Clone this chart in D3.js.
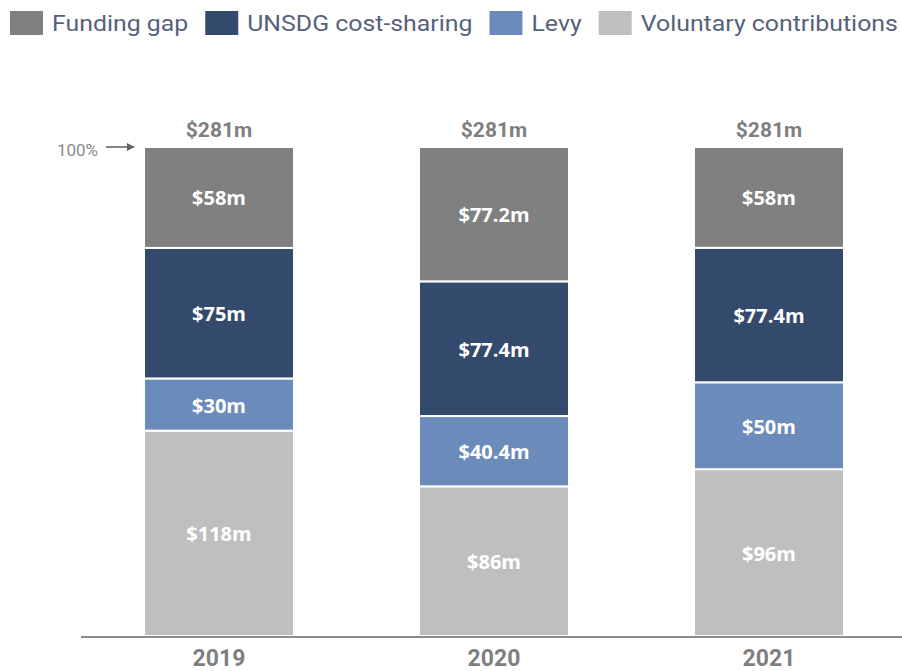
<!DOCTYPE html>
<html>
<head>
<meta charset="utf-8">
<script src="https://cdn.jsdelivr.net/npm/d3@7"></script>
<style>
  html, body { margin: 0; padding: 0; background: #fff; }
  svg { display: block; font-family: Roboto, "Noto Sans", sans-serif; }
</style>
</head>
<body>
<div id="chart"></div>
<script>
"use strict";

const years = ["2019", "2020", "2021"];
const seriesNames = ["Voluntary contributions", "Levy", "UNSDG cost-sharing", "Funding gap"];
const voluntary = [118, 86, 96];
const levy = [30, 40.4, 50];
const unsdg = [75, 77.4, 77.4];
const fundingGap = [58, 77.2, 58];
const totals = [281, 281, 281];
const legendOrder = ["Funding gap", "UNSDG cost-sharing", "Levy", "Voluntary contributions"];

const colors = {
    "Funding gap": "#808080",
    "UNSDG cost-sharing": "#344a6c",
    "Levy": "#6b8cba",
    "Voluntary contributions": "#bfbfbf"
};

const width = 902, height = 671;
const fmt = v => "$" + v + "m";

const svg = d3.select("#chart").append("svg")
    .attr("width", width)
    .attr("height", height);

const rows = years.map((y, i) => ({
    year: y,
    "Voluntary contributions": voluntary[i],
    "Levy": levy[i],
    "UNSDG cost-sharing": unsdg[i],
    "Funding gap": fundingGap[i],
    total: totals[i]
}));

// normalise each bar to 100%
const stack = d3.stack().keys(seriesNames).offset(d3.stackOffsetExpand);
const layers = stack(rows);

const x = d3.scaleBand()
    .domain(years)
    .range([81.5, 906.5])
    .paddingInner(0.4545)
    .paddingOuter(0.2273);

const y = d3.scaleLinear()
    .domain([0, 1])
    .range([636, 147]);

const layerG = svg.append("g").selectAll("g")
    .data(layers)
    .join("g")
    .attr("fill", d => colors[d.key]);

layerG.selectAll("rect")
    .data(d => d.map(p => ({key: d.key, p})))
    .join("rect")
    .attr("x", d => x(d.p.data.year))
    .attr("width", x.bandwidth())
    .attr("y", d => y(d.p[1]))
    .attr("height", d => y(d.p[0]) - y(d.p[1]))
    .attr("stroke", "#fff")
    .attr("stroke-width", 2);

layerG.selectAll("text")
    .data(d => d.map(p => ({key: d.key, p})))
    .join("text")
    .attr("x", d => x(d.p.data.year) + x.bandwidth() / 2)
    .attr("y", d => (y(d.p[0]) + y(d.p[1])) / 2)
    .attr("dy", "0.4em")
    .attr("text-anchor", "middle")
    .attr("fill", "#fff")
    .style("font-family", "'Open Sans', sans-serif")
    .style("font-size", "20px")
    .style("font-weight", "bold")
    .text(d => fmt(d.p.data[d.key]));

// totals
svg.append("g").selectAll("text")
    .data(rows)
    .join("text")
    .attr("x", d => x(d.year) + x.bandwidth() / 2)
    .attr("y", y(1) - 10)
    .attr("text-anchor", "middle")
    .attr("fill", "#7f7f7f")
    .style("font-size", "21px")
    .style("font-weight", "bold")
    .text(d => fmt(d.total));

// baseline
const xAxis = svg.append("g")
    .attr("transform", "translate(0,637)")
    .call(d3.axisBottom(x).tickSize(0).tickPadding(13));
xAxis.select(".domain").remove();
xAxis.selectAll("text")
    .attr("fill", "#7f7f7f")
    .style("font-size", "23px")
    .style("font-weight", "bold")
    .style("font-family", "Roboto, sans-serif");
svg.append("line")
    .attr("x1", 81).attr("x2", 902)
    .attr("y1", 637).attr("y2", 637)
    .attr("stroke", "#8c8c8c")
    .attr("stroke-width", 2);

// 100% marker
svg.append("text")
    .attr("x", 98)
    .attr("y", y(1) + 3)
    .attr("dy", "0.35em")
    .attr("text-anchor", "end")
    .attr("fill", "#8a8a8a")
    .style("font-size", "17px")
    .text("100%");
svg.append("defs").append("marker")
    .attr("id", "arr")
    .attr("viewBox", "0 0 10 10")
    .attr("refX", 9).attr("refY", 5)
    .attr("markerWidth", 5).attr("markerHeight", 5)
    .attr("orient", "auto")
    .append("path")
    .attr("d", "M0,0L10,5L0,10Z")
    .attr("fill", "#666");
svg.append("line")
    .attr("x1", 106).attr("x2", 134)
    .attr("y1", y(1)).attr("y2", y(1))
    .attr("stroke", "#666")
    .attr("stroke-width", 1.6)
    .attr("marker-end", "url(#arr)");

// legend (text is slightly stretched horizontally in the original)
const legend = svg.append("g").attr("transform", "translate(10,11)");
const stretch = 1.13;
let lx = 0;
legendOrder.forEach(name => {
    const g = legend.append("g").attr("transform", `translate(${lx},0)`);
    g.append("rect")
        .attr("width", 33).attr("height", 24)
        .attr("fill", colors[name]);
    const t = g.append("text")
        .attr("transform", `translate(42,12) scale(${stretch},1)`)
        .attr("dy", "0.36em")
        .attr("fill", "#56627a")
        .style("font-size", "22px")
        .text(name);
    lx += 42 + t.node().getComputedTextLength() * stretch + 17;
});
</script>
</body>
</html>
